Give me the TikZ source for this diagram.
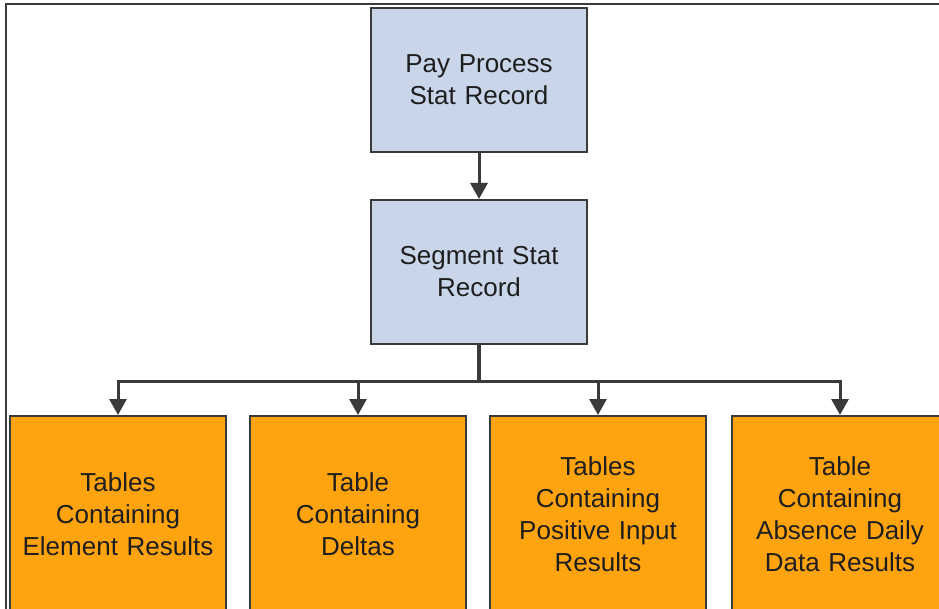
\documentclass[tikz,border=0pt]{standalone}
\usepackage{fontspec}
\usepackage{xcolor}
\setmainfont{Liberation Sans}
\usetikzlibrary{arrows.meta}
\definecolor{statblue}{HTML}{C9D6EA}
\definecolor{tableorange}{HTML}{FFA30F}
\definecolor{edgegray}{HTML}{3A3A3A}
\definecolor{textgray}{HTML}{1E1E1E}
\tikzset{
	box/.style={draw=edgegray, line width=2pt, align=center, text=textgray,
		font=\fontsize{26}{32}\selectfont, text width=205pt, minimum width=216pt},
	statbox/.style={box, fill=statblue, minimum height=144pt},
	tablebox/.style={box, fill=tableorange, minimum height=196pt},
	link/.style={draw=edgegray, line width=3pt, -{Triangle[width=17pt,length=16pt]}}
}
\begin{document}
\begin{tikzpicture}[x=1pt, y=1pt]
			\useasboundingbox (0,0) rectangle (939,-609);
			\clip (0,0) rectangle (939,-609);
			\draw[edgegray, line width=1.5pt] (6,-609) -- (6,-4) -- (939,-4);
			\node[statbox] (paystat) at (479,-80) {Pay Process\\Stat Record};
			\node[statbox] (segstat) at (479,-272) {Segment Stat\\Record};
			\node[tablebox] (elem) at (118,-514) {Tables\\Containing\\Element Results};
			\node[tablebox] (delta) at (358,-514) {Table\\Containing\\Deltas};
			\node[tablebox] (posin) at (598,-514) {Tables\\Containing\\Positive Input\\Results};
			\node[tablebox] (absence) at (840,-514) {Table\\Containing\\Absence Daily\\Data Results};
			\draw[link] (paystat) -- (segstat);
			\draw[edgegray, line width=4pt] (segstat.south) -- ++(0,-36) coordinate (bus);
			\foreach \t in {elem, delta, posin, absence}
				\draw[link] (bus) -| (\t.north);
		\end{tikzpicture}
\end{document}
